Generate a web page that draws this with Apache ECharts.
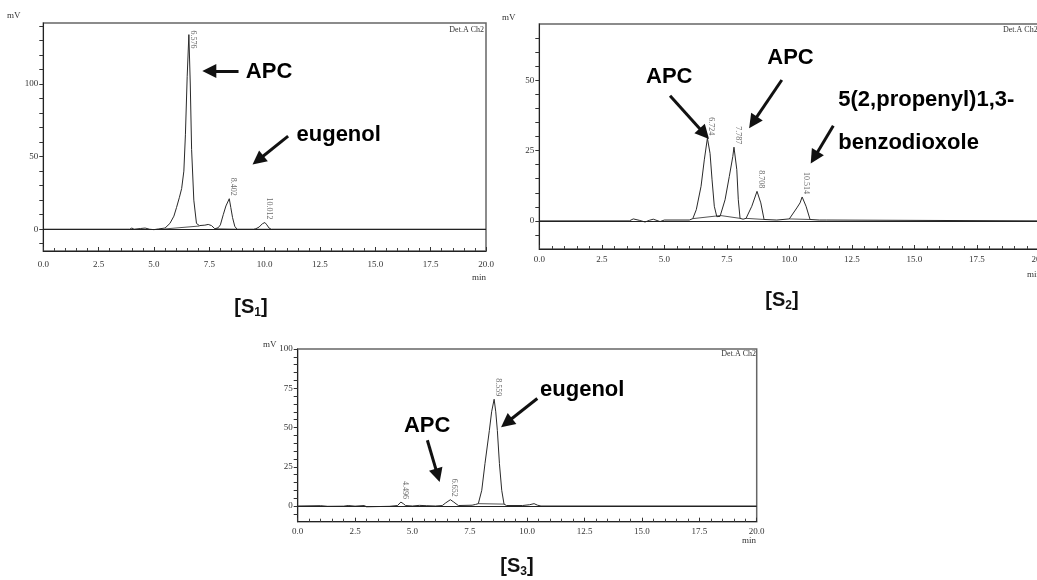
<!DOCTYPE html>
<html lang="en">
<head>
<meta charset="UTF-8">
<title>HPLC chromatograms S1 S2 S3</title>
<script src="https://cdn.jsdelivr.net/npm/echarts@6/dist/echarts.min.js"></script>
<style>
    body {
        margin: 0;
        padding: 0;
        overflow: hidden;
        background: #fff;
    }
    #main {
        width: 1037px;
        height: 580px;
    }
</style>
</head>
<body>
<div id="main"></div>
<script>
    // retention time (min) / detector signal (mV)
    var s1Time = [0, 3.9, 4.0, 4.1, 4.4, 4.6, 4.8, 5.0, 5.2, 5.5, 5.72, 5.9, 6.02, 6.15, 6.25, 6.35, 6.42, 6.5, 6.576, 6.64, 6.7, 6.8, 6.92, 7.05, 7.3, 7.45, 7.6, 7.75, 7.9, 8.0, 8.13, 8.25, 8.402, 8.47, 8.55, 8.65, 8.75, 9.5, 9.6, 9.75, 9.9, 10.012, 10.1, 10.2, 10.3, 20];
    var s1Signal = [0, 0, 0.8, 0, 0.5, 0.8, 0, -0.3, 0.2, 0.8, 4, 9, 15, 22, 28, 40, 65, 105, 134, 100, 55, 20, 4, 2.5, 2.8, 3.3, 2.5, 0.3, 1, 3, 10, 16, 21, 15, 8, 2, 0, 0, 0.3, 1.5, 3.8, 4.6, 3, 0.8, 0, 0];
    var s1BaseTime = [5.5, 7.05, null, 7.8, 8.75, null, 9.55, 10.25];
    var s1BaseSignal = [0.2, 2.2, null, 0.3, 0, null, 0, 0];

    var s2Time = [0, 3.6, 3.76, 4.0, 4.23, 4.4, 4.56, 4.83, 5.0, 6.0, 6.14, 6.28, 6.47, 6.6, 6.724, 6.83, 6.91, 7.0, 7.1, 7.23, 7.43, 7.6, 7.74, 7.787, 7.9, 7.96, 8.03, 8.15, 8.27, 8.5, 8.708, 8.86, 8.99, 9.5, 10.0, 10.3, 10.43, 10.514, 10.67, 10.83, 11.2, 11.5, 20];
    var s2Signal = [0, 0, 0.7, 0.2, -0.4, 0.2, 0.6, -0.25, 0.3, 0.3, 0.8, 4, 12.3, 21.7, 29.4, 24, 14.6, 5.2, 1.5, 1.6, 7.5, 15.8, 22.9, 26.2, 18.2, 7.5, 0.9, 0.6, 0.9, 5.2, 10.5, 6.4, 0.5, 0.3, 0.7, 4.6, 6.4, 8.5, 5.2, 0.5, 0.3, 0.3, 0];
    var s2BaseTime = [6.14, 7.25, 8.03, null, 8.27, 8.99, null, 10.0, 10.83];
    var s2BaseSignal = [0.8, 1.9, 0.9, null, 0.9, 0.5, null, 0.7, 0.5];

    var s3Time = [0, 1.0, 1.3, 2.0, 2.2, 2.5, 2.9, 3.0, 4.0, 4.35, 4.496, 4.6, 4.7, 5.0, 5.3, 5.6, 6.0, 6.3, 6.45, 6.652, 6.8, 7.0, 7.6, 7.75, 7.87, 8.02, 8.16, 8.35, 8.45, 8.559, 8.63, 8.7, 8.79, 8.89, 8.99, 9.1, 9.8, 10.1, 10.3, 10.45, 10.6, 20];
    var s3Signal = [0, 0.2, -0.2, -0.1, 0.3, -0.1, 0.3, -0.5, -0.2, 0.3, 2.5, 1.5, 0.3, 0, 0.4, 0.2, 0, 0.3, 2, 4, 2.5, 0.3, 0.5, 1, 1.5, 10, 27, 48, 60, 68, 60, 48, 27, 10, 1.2, 0.3, 0.3, 0.8, 1.5, 0.5, 0, 0];
    var s3BaseTime = [7.87, 8.99];
    var s3BaseSignal = [1.5, 1.2];

    // integrated peaks: retention time and apex height
    var s1Peaks = [6.576, 8.402, 10.012];
    var s1PeakHeights = [134, 21, 4.6];
    var s2Peaks = [6.724, 7.787, 8.708, 10.514];
    var s2PeakHeights = [29.4, 26.2, 10.5, 8.5];
    var s3Peaks = [4.496, 6.652, 8.559];
    var s3PeakHeights = [2.5, 4, 68];

    // y tick marks and labelled values
    var s1Ticks = [-10, 0, 10, 20, 30, 40, 50, 60, 70, 80, 90, 100, 110, 120, 130, 140];
    var s1Labels = [0, 50, 100];
    var s2Ticks = [-5, 0, 5, 10, 15, 20, 25, 30, 35, 40, 45, 50, 55, 60, 65];
    var s2Labels = [0, 25, 50];
    var s3Ticks = [-5, 0, 5, 10, 15, 20, 25, 30, 35, 40, 45, 50, 55, 60, 65, 70, 75, 80, 85, 90, 95, 100];
    var s3Labels = [0, 25, 50, 75, 100];

    // hand annotations, in data units: [text, time, mV] and [fromT, fromV, toT, toV]
    var s1Notes = [['APC', 9.15, 108.5], ['eugenol', 11.44, 64.8]];
    var s1Arrows = [[8.82, 109, 7.5, 109], [11.06, 64.1, 9.7, 47.5]];
    var s2Notes = [['APC', 4.27, 51.1], ['APC', 9.12, 57.8], ['5(2,propenyl)1,3-', 11.96, 43.0], ['benzodioxole', 11.96, 27.7]];
    var s2Arrows = [[5.23, 44.5, 6.6, 31.0], [9.7, 50.1, 8.55, 35.0], [11.76, 33.8, 11.0, 22.5]];
    var s3Notes = [['eugenol', 10.56, 73.8], ['APC', 4.63, 51.1]];
    var s3Arrows = [[10.44, 68.5, 9.1, 53.0], [5.65, 41.9, 6.1, 19.5]];

    var serif = 'Liberation Serif';
    var sans = 'Liberation Sans';

    function zip(xs, ys) {
        var out = [];
        for (var i = 0; i < xs.length; i++) {
            out.push(xs[i] === null ? ['-', '-'] : [xs[i], ys[i]]);
        }
        return out;
    }

    var panels = [
        { grid: { left: 43.3, top: 23, width: 442.7, height: 228 }, yMin: -15, yMax: 142, xMargin: 9,
            time: s1Time, signal: s1Signal, baseT: s1BaseTime, baseV: s1BaseSignal,
            peaks: s1Peaks, heights: s1PeakHeights, ticks: s1Ticks, labels: s1Labels,
            notes: s1Notes, arrows: s1Arrows },
        { grid: { left: 539.3, top: 24, width: 500, height: 225 }, yMin: -10, yMax: 70, xMargin: 6.5,
            time: s2Time, signal: s2Signal, baseT: s2BaseTime, baseV: s2BaseSignal,
            peaks: s2Peaks, heights: s2PeakHeights, ticks: s2Ticks, labels: s2Labels,
            notes: s2Notes, arrows: s2Arrows },
        { grid: { left: 297.7, top: 349, width: 459, height: 172.7 }, yMin: -10, yMax: 100, xMargin: 5.5,
            time: s3Time, signal: s3Signal, baseT: s3BaseTime, baseV: s3BaseSignal,
            peaks: s3Peaks, heights: s3PeakHeights, ticks: s3Ticks, labels: s3Labels,
            notes: s3Notes, arrows: s3Arrows }
    ];

    var grids = [], xAxes = [], yAxes = [], series = [];

    panels.forEach(function(p, i) {
        grids.push({
            left: p.grid.left, top: p.grid.top, width: p.grid.width, height: p.grid.height,
            outerBoundsMode: 'none', containLabel: false,
            show: true, borderColor: '#666', borderWidth: 1.5, backgroundColor: 'transparent'
        });
        xAxes.push({
            gridIndex: i, type: 'value', min: 0, max: 20, interval: 2.5,
            axisLine: { show: true, onZero: false, lineStyle: { color: '#222', width: 1 } },
            axisTick: { show: true, inside: true, length: 4, lineStyle: { color: '#333' } },
            minorTick: { show: true, splitNumber: 5, length: 3, lineStyle: { color: '#444' } },
            splitLine: { show: false },
            axisLabel: {
                fontFamily: serif, fontSize: 9, color: '#333', margin: p.xMargin,
                formatter: function(v) { return v.toFixed(1); }
            }
        });
        yAxes.push({
            gridIndex: i, type: 'value', min: p.yMin, max: p.yMax,
            axisLine: { show: true, onZero: false, lineStyle: { color: '#222', width: 1 } },
            axisTick: { show: true, length: 4, customValues: p.ticks, lineStyle: { color: '#333' } },
            splitLine: { show: false },
            axisLabel: { customValues: p.labels, fontFamily: serif, fontSize: 9, color: '#333', margin: 5 }
        });

        // chromatogram trace + zero line
        series.push({
            type: 'line', xAxisIndex: i, yAxisIndex: i, data: zip(p.time, p.signal),
            symbol: 'none', lineStyle: { color: '#2a2a2a', width: 1 }, z: 3,
            markLine: {
                silent: true, symbol: 'none', label: { show: false },
                lineStyle: { color: '#222', width: 1.2, type: 'solid' },
                data: [{ yAxis: 0 }]
            }
        });
        // integration baselines
        series.push({
            type: 'line', xAxisIndex: i, yAxisIndex: i, data: zip(p.baseT, p.baseV),
            symbol: 'none', connectNulls: false, lineStyle: { color: '#555', width: 1 }, z: 2
        });
        // retention time labels
        series.push({
            type: 'scatter', xAxisIndex: i, yAxisIndex: i, silent: true, symbolSize: 1,
            itemStyle: { color: 'transparent' },
            data: p.peaks.map(function(t, k) {
                var item = { value: [t, p.heights[k]] };
                if (i === 0 && k === 0) item.label = { offset: [14, 0] };
                return item;
            }),
            label: {
                show: true, position: 'inside', rotate: -90, align: 'right', verticalAlign: 'bottom',
                offset: [-3, 0], fontFamily: serif, fontSize: 8, color: '#444',
                formatter: function(d) { return d.value[0].toFixed(3); }
            }
        });
        // annotation words and arrows
        series.push({
            type: 'scatter', xAxisIndex: i, yAxisIndex: i, silent: true, symbolSize: 1,
            itemStyle: { color: 'transparent' },
            data: p.notes.map(function(n) { return { name: n[0], value: [n[1], n[2]] }; }),
            label: {
                show: true, position: 'inside', align: 'left', verticalAlign: 'middle',
                fontFamily: sans, fontWeight: 'bold', fontSize: 22, color: '#000',
                textBorderWidth: 0, opacity: 1,
                formatter: function(d) { return d.name; }
            },
            markLine: {
                silent: true, symbol: ['none', 'triangle'], symbolSize: 14,
                label: { show: false },
                lineStyle: { color: '#111', width: 3, type: 'solid' },
                data: p.arrows.map(function(a) {
                    return [{ coord: [a[0], a[1]] }, { coord: [a[2], a[3]] }];
                })
            }
        });
    });

    function txt(s, x, y, align, font) {
        return {
            type: 'text', x: x, y: y, silent: true,
            style: { text: s, fill: '#333', font: font, align: align, verticalAlign: 'middle' }
        };
    }

    function tag(n, x, y) {
        return {
            type: 'text', x: x, y: y, silent: true,
            style: {
                text: '[S{sub|' + n + '}]', fill: '#111', font: 'bold 20px ' + sans,
                align: 'center', verticalAlign: 'middle', lineHeight: 24,
                rich: { sub: { fontSize: 12, fontWeight: 'bold', fontFamily: sans, verticalAlign: 'bottom', lineHeight: 12 } }
            }
        };
    }

    var small = '9px ' + serif;
    var tiny = '8px ' + serif;

    var app = echarts.init(document.getElementById('main'));
    var option = {
        animation: false,
        backgroundColor: '#fff',
        grid: grids,
        xAxis: xAxes,
        yAxis: yAxes,
        series: series,
        graphic: [
            txt('mV', 7, 16, 'left', small),
            txt('Det.A Ch2', 484, 30, 'right', tiny),
            txt('min', 486, 278, 'right', small),
            tag(1, 251, 307),
            txt('mV', 502, 18, 'left', small),
            txt('Det.A Ch2', 1003, 30, 'left', tiny),
            txt('min', 1027, 275, 'left', small),
            tag(2, 782, 300),
            txt('mV', 263, 345, 'left', small),
            txt('Det.A Ch2', 756, 354, 'right', tiny),
            txt('min', 756, 541, 'right', small),
            tag(3, 517, 566)
        ]
    };
    app.setOption(option);
</script>
</body>
</html>
